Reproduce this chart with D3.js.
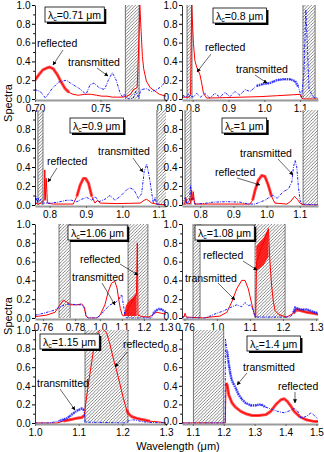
<!DOCTYPE html>
<html>
<head>
<meta charset="utf-8">
<script src="https://cdn.jsdelivr.net/npm/d3@7"></script>
<style>
body { margin: 0; background: #fff; }
svg { display: block; font-family: "Liberation Sans", Arial, sans-serif; }
</style>
</head>
<body>
<svg id="chart" width="324" height="452"></svg>
<script>
// spectra: [wavelength (um), value]
var refl071 = [[0.700,0.20],[0.703,0.26],[0.706,0.31],[0.709,0.33],[0.711,0.34],[0.714,0.32],[0.717,0.26],[0.720,0.18],[0.723,0.11],[0.726,0.07],[0.729,0.05],[0.733,0.04],[0.738,0.05],[0.743,0.05],[0.747,0.04],[0.751,0.03],[0.755,0.03],[0.759,0.02],[0.763,0.02],[0.767,0.02],[0.770,0.03],[0.773,0.05],[0.775,0.10],[0.778,0.12],[0.779,0.5],[0.780,1.0],[0.781,0.72],[0.782,0.45],[0.783,0.32],[0.785,0.19],[0.788,0.12],[0.791,0.09],[0.795,0.05],[0.800,0.03]];
var trans071 = [[0.700,0.10],[0.704,0.08],[0.708,0.01],[0.713,0.11],[0.718,0.18],[0.724,0.20],[0.727,0.17],[0.734,0.11],[0.739,0.05],[0.742,0.15],[0.745,0.17],[0.749,0.12],[0.753,0.10],[0.756,0.20],[0.759,0.28],[0.762,0.20],[0.765,0.06],[0.767,0.02],[0.768,0.05],[0.771,0.00],[0.775,0.01],[0.777,0.08],[0.779,0.02],[0.781,0.10],[0.785,0.11],[0.789,0.08],[0.793,0.10],[0.797,0.14],[0.800,0.20]];

var refl08 = [[0.770,0.02],[0.790,0.02],[0.794,0.05],[0.797,1.0],[0.802,0.59],[0.806,0.41],[0.811,0.34],[0.820,0.26],[0.825,0.17],[0.830,0.06],[0.839,0.01],[0.895,0.015],[0.988,0.025],[1.035,0.035],[1.081,0.045],[1.100,0.05],[1.104,0.01],[1.109,0.0],[1.150,0.0]];
var trans08 = [[0.772,0.04],[0.781,0.02],[0.788,0.05],[0.802,0.02],[0.811,0.06],[0.822,0.02],[0.834,0.06],[0.848,0.01],[0.862,0.06],[0.876,0.02],[0.890,0.07],[0.904,0.025],[0.918,0.08],[0.932,0.04],[0.946,0.10],[0.960,0.08],[0.979,0.14],[0.997,0.16],[1.016,0.17],[1.035,0.20],[1.053,0.21],[1.072,0.21],[1.086,0.19],[1.095,0.13],[1.104,0.02],[1.111,0.30],[1.116,0.95],[1.120,0.60],[1.125,0.10],[1.137,0.02],[1.150,0.01]];

var refl09 = [[0.760,0.02],[0.769,0.01],[0.778,0.02],[0.785,0.05],[0.787,0.37],[0.788,0.05],[0.791,0.28],[0.794,0.02],[0.810,0.01],[0.865,0.01],[0.875,0.09],[0.884,0.21],[0.893,0.28],[0.899,0.28],[0.907,0.23],[0.916,0.09],[0.925,0.02],[0.932,0.05],[0.939,0.02],[0.985,0.015],[1.049,0.02],[1.060,0.05],[1.067,0.06],[1.074,0.04],[1.081,0.02],[1.094,0.01],[1.120,0.0]];
var trans09 = [[0.760,0.05],[0.763,0.09],[0.766,0.02],[0.768,0.08],[0.772,0.03],[0.776,0.06],[0.781,0.02],[0.801,0.02],[0.824,0.03],[0.847,0.05],[0.861,0.05],[0.875,0.035],[0.888,0.06],[0.902,0.08],[0.916,0.05],[0.925,0.09],[0.936,0.035],[0.952,0.06],[0.966,0.10],[0.980,0.05],[0.994,0.09],[1.012,0.16],[1.021,0.18],[1.032,0.16],[1.044,0.07],[1.053,0.12],[1.060,0.35],[1.067,0.43],[1.074,0.30],[1.081,0.12],[1.085,0.02],[1.090,0.08],[1.094,0.01],[1.120,0.0]];

var refl1 = [[0.745,0.01],[0.753,0.01],[0.757,0.07],[0.761,0.01],[0.771,0.02],[0.774,0.16],[0.777,0.05],[0.779,0.14],[0.783,0.01],[0.829,0.01],[0.950,0.01],[0.958,0.05],[0.965,0.15],[0.975,0.26],[0.985,0.31],[0.995,0.30],[1.005,0.21],[1.015,0.09],[1.025,0.02],[1.061,0.01],[1.073,0.04],[1.084,0.09],[1.093,0.06],[1.101,0.02],[1.111,0.0],[1.155,0.0]];
var trans1 = [[0.745,0.01],[0.751,0.05],[0.755,0.08],[0.759,0.02],[0.767,0.04],[0.771,0.21],[0.774,0.05],[0.779,0.08],[0.784,0.01],[0.809,0.015],[0.839,0.03],[0.880,0.035],[0.920,0.03],[0.945,0.01],[0.965,0.01],[0.980,0.03],[0.995,0.05],[1.008,0.08],[1.020,0.10],[1.032,0.07],[1.050,0.14],[1.066,0.17],[1.076,0.24],[1.081,0.40],[1.086,0.47],[1.091,0.40],[1.096,0.19],[1.101,0.05],[1.106,0.01],[1.155,0.0]];

var refl106 = [[0.755,0.015],[0.762,0.03],[0.7675,0.06],[0.7706,0.14],[0.7727,0.19],[0.7748,0.17],[0.7773,0.14],[0.7811,0.14],[0.7842,0.15],[0.7856,0.12],[0.7869,0.02],[0.7883,0.0],[0.986,0.0],[1.001,0.03],[1.023,0.14],[1.038,0.28],[1.053,0.37],[1.068,0.39],[1.078,0.32],[1.087,0.18],[1.093,0.10],[1.102,0.03],[1.108,0.02],[1.166,0.25],[1.170,0.80],[1.173,0.03],[1.19,0.015],[1.22,0.01],[1.24,0.03],[1.245,0.05],[1.26,0.06],[1.28,0.05],[1.30,0.04]];
var fill106 = [[1.109,0.02,0.03],[1.118,0.02,0.13],[1.128,0.02,0.17],[1.140,0.02,0.20],[1.150,0.02,0.22],[1.160,0.02,0.25],[1.167,0.02,0.28]];
var trans106 = [[0.755,0.03],[0.7602,0.05],[0.7644,0.07],[0.7675,0.085],[0.7706,0.12],[0.7738,0.14],[0.7769,0.15],[0.7811,0.14],[0.7842,0.14],[0.7863,0.10],[0.7869,0.02],[0.7883,0.0],[0.985,0.0],[1.001,0.025],[1.023,0.085],[1.046,0.14],[1.068,0.16],[1.084,0.19],[1.099,0.25],[1.107,0.14],[1.114,0.03],[1.121,0.0],[1.235,0.0],[1.242,0.05],[1.258,0.085],[1.273,0.10],[1.288,0.08],[1.30,0.06]];

var refl108 = [[0.757,0.01],[0.7594,0.01],[0.7607,0.05],[0.7623,0.01],[0.783,0.0],[0.979,0.01],[1.009,0.02],[1.030,0.06],[1.045,0.17],[1.060,0.31],[1.075,0.40],[1.085,0.40],[1.095,0.31],[1.1055,0.15],[1.1125,0.05],[1.1175,0.01],[1.120,0.60],[1.156,0.95],[1.160,0.63],[1.1655,0.35],[1.171,0.17],[1.176,0.08],[1.186,0.04],[1.201,0.02],[1.211,0.01],[1.2316,0.05],[1.2418,0.09],[1.252,0.08],[1.272,0.06],[1.292,0.05],[1.306,0.04]];
var fill108 = [[1.119,0.50,0.76],[1.130,0.53,0.81],[1.141,0.56,0.85],[1.151,0.62,0.92],[1.156,0.65,0.95]];
var trans108 = [[0.757,0.0],[0.760,0.02],[0.762,0.0],[0.964,0.0],[0.979,0.02],[0.999,0.05],[1.020,0.075],[1.040,0.11],[1.060,0.14],[1.075,0.12],[1.085,0.165],[1.095,0.13],[1.102,0.14],[1.110,0.08],[1.1155,0.01],[1.222,0.01],[1.232,0.06],[1.237,0.11],[1.252,0.09],[1.272,0.09],[1.292,0.065],[1.306,0.05]];

var refl115 = [[1.000,0.0],[1.050,0.0],[1.065,0.02],[1.080,0.035],[1.095,0.05],[1.107,0.06],[1.113,0.08],[1.115,0.17],[1.122,0.41],[1.130,0.66],[1.137,0.88],[1.145,0.98],[1.153,1.02],[1.164,0.97],[1.172,0.84],[1.179,0.70],[1.187,0.56],[1.195,0.41],[1.202,0.27],[1.210,0.14],[1.214,0.10],[1.221,0.07],[1.233,0.05],[1.248,0.035],[1.263,0.02],[1.286,0.01],[1.300,0.0]];
var trans115 = [[1.000,0.0],[1.034,0.0],[1.057,0.025],[1.073,0.05],[1.084,0.09],[1.095,0.13],[1.107,0.155],[1.112,0.14],[1.1145,0.01],[1.210,0.0],[1.214,0.025],[1.225,0.035],[1.240,0.02],[1.256,0.008],[1.300,0.0]];

var refl14 = [[1.065,0.0],[1.205,0.0],[1.2077,0.43],[1.211,0.41],[1.2165,0.30],[1.227,0.215],[1.238,0.17],[1.255,0.125],[1.271,0.10],[1.292,0.08],[1.314,0.08],[1.336,0.09],[1.352,0.125],[1.369,0.20],[1.385,0.25],[1.396,0.26],[1.4065,0.23],[1.4175,0.18],[1.428,0.125],[1.445,0.07],[1.466,0.035],[1.488,0.02],[1.505,0.015]];
var trans14 = [[1.065,0.0],[1.2045,0.0],[1.2057,0.90],[1.211,0.77],[1.2165,0.63],[1.222,0.52],[1.227,0.45],[1.238,0.38],[1.249,0.30],[1.260,0.25],[1.271,0.215],[1.287,0.19],[1.3035,0.19],[1.320,0.20],[1.336,0.17],[1.358,0.145],[1.379,0.12],[1.396,0.11],[1.412,0.13],[1.428,0.155],[1.439,0.13],[1.450,0.05],[1.466,0.07],[1.483,0.11],[1.4935,0.08],[1.505,0.04]];

// hatched (forbidden) wavelength bands
var gap071 = [[0.769,0.7795]];
var gap08 = [[0.784,0.798],[1.108,1.142]];
var gap09 = [[0.768,0.782],[1.095,1.122]];
var gap1 = [[0.754,0.772],[1.110,1.155]];
var gap106 = [[0.770,0.777],[1.128,1.218]];
var gap108 = [[0.7704,0.779],[1.1155,1.2064]];
var gap115 = [[1.1145,1.213]];
var gap14 = [[1.102,1.200]];

// x tick labels
var ticks071 = ['0.70','0.75','0.80'];
var ticks08 = ['0.8','0.9','1.0','1.1'];
var ticks106 = ['0.76','0.78','1.0','1.1','1.2','1.3'];
var ticks108 = ['0.76','1.0','1.1','1.2','1.3'];
var ticks115 = ['1.0','1.1','1.2','1.3'];
var ticks14 = ['1.1','1.2','1.3','1.4','1.5'];
var yTicks = [0, 0.2, 0.4, 0.6, 0.8, 1.0];
var yMinor = [0.1, 0.3, 0.5, 0.7, 0.9];

var cols = [[35, 166], [182, 318]];
var rows = [[5, 99], [110, 205], [224, 318], [330, 423]];

var RED = '#ff0000', BLUE = '#1a1aff';
var FS = 10;

var panels = [
    { lc: '0.71', row: 0, col: 0, xDomain: [0.70, 0.80], ticks: ticks071, refl: refl071, trans: trans071, gaps: gap071,
      rBands: [[0.700, 0.727]], tBands: [], box: [45, 7],
      notes: [{ t: 'reflected', x: 37, y: 47, a: [63, 50, 53, 65] }, { t: 'transmitted', x: 68, y: 66, a: [97, 68, 108, 76] }] },
    { lc: '0.8', row: 0, col: 1, xDomain: [0.77, 1.15], ticks: ticks08, refl: refl08, trans: trans08, gaps: gap08,
      rBands: [], tBands: [[0.975, 1.097]], box: [213, 8],
      notes: [{ t: 'reflected', x: 205, y: 51, a: [211, 54, 197, 72] }, { t: 'transmitted', x: 236, y: 73, a: [255, 75, 267, 83] }] },
    { lc: '0.9', row: 1, col: 0, xDomain: [0.76, 1.12], ticks: ticks08, refl: refl09, trans: trans09, gaps: gap09,
      rBands: [[0.872, 0.918]], tBands: [], box: [70, 118], noTop: true,
      notes: [{ t: 'reflected', x: 47, y: 165, a: [57, 168, 48, 182] }, { t: 'transmitted', x: 98, y: 155, a: [133, 158, 143, 172] }] },
    { lc: '1', row: 1, col: 1, xDomain: [0.745, 1.155], ticks: ticks08, refl: refl1, trans: trans1, gaps: gap1,
      rBands: [[0.958, 1.02]], tBands: [], box: [222, 118], noTop: true,
      notes: [{ t: 'reflected', x: 215, y: 176, a: [237, 178, 260, 185] }, { t: 'transmitted', x: 240, y: 157, a: [278, 159, 293, 175] }] },
    { lc: '1.06', row: 2, col: 0, xDomain: [0.755, 0.79, 0.96, 1.3], brk: 56 / 131, ticks: ticks106, refl: refl106, trans: trans106, gaps: gap106,
      fill: fill106, rBands: [], tBands: [[1.24, 1.30]], box: [68, 225],
      notes: [{ t: 'reflected', x: 80, y: 263, a: [120, 264, 138, 275] }, { t: 'transmitted', x: 72, y: 281, a: [102, 283, 115, 305] }] },
    { lc: '1.08', row: 2, col: 1, xDomain: [0.757, 0.785, 0.964, 1.306], brk: 23 / 136, ticks: ticks108, refl: refl108, trans: trans108, gaps: gap108,
      fill: fill108, rBands: [[1.225, 1.306]], tBands: [[1.23, 1.306]], box: [195, 225],
      notes: [{ t: 'reflected', x: 203, y: 259, a: [243, 261, 257, 270] }, { t: 'transmitted', x: 185, y: 282, a: [218, 283, 235, 300] }] },
    { lc: '1.15', row: 3, col: 0, xDomain: [1.0, 1.3], ticks: ticks115, refl: refl115, trans: trans115, gaps: gap115,
      rBands: [[1.06, 1.113], [1.21, 1.27]], tBands: [[1.055, 1.113]], box: [40, 334],
      notes: [{ t: 'reflected', x: 123, y: 348, a: [127, 352, 115, 367] }, { t: 'transmitted', x: 37, y: 387, a: [60, 389, 75, 410] }] },
    { lc: '1.4', row: 3, col: 1, xDomain: [1.065, 1.505], ticks: ticks14, refl: refl14, trans: trans14, gaps: gap14,
      rBands: [[1.207, 1.505]], tBands: [[1.206, 1.34]], box: [247, 336], noTop: true,
      notes: [{ t: 'transmitted', x: 243, y: 371, a: [247, 373, 237, 385] }, { t: 'reflected', x: 278, y: 390, a: [295, 392, 295, 403] }] }
];

var svg = d3.select('#chart');
var defs = svg.append('defs');

var pat = defs.append('pattern')
    .attr('id', 'hatch')
    .attr('patternUnits', 'userSpaceOnUse')
    .attr('width', 3.2)
    .attr('height', 3.2);
pat.append('rect').attr('width', 3.2).attr('height', 3.2).attr('fill', '#fff');
pat.append('path')
    .attr('d', 'M-0.8,0.8 L0.8,-0.8 M0,3.2 L3.2,0 M2.4,4 L4,2.4')
    .attr('stroke', '#444')
    .attr('stroke-width', 0.65);

defs.append('marker')
    .attr('id', 'arr')
    .attr('viewBox', '0 0 6 6')
    .attr('refX', 5.5)
    .attr('refY', 3)
    .attr('markerUnits', 'userSpaceOnUse')
    .attr('markerWidth', 4)
    .attr('markerHeight', 4)
    .attr('orient', 'auto')
    .append('path').attr('d', 'M0,0 L6,3 L0,6 Z').attr('fill', '#000');

function inRange(arr, r) {
    return arr.filter(function (d) { return d[0] >= r[0] && d[0] <= r[1]; });
}

panels.forEach(function (p, i) {
    var x0 = cols[p.col][0], x1 = cols[p.col][1];
    var y0 = rows[p.row][0], y1 = rows[p.row][1];
    var xr = [x0, x1];
    if (p.brk) {
        var xb = x0 + p.brk * (x1 - x0);
        xr = [x0, xb, xb, x1];
    }
    var x = d3.scaleLinear().domain(p.xDomain).range(xr);
    var y = d3.scaleLinear().domain([0, 1]).range([y1, y0]);

    defs.append('clipPath').attr('id', 'clip' + i)
        .append('rect').attr('x', x0).attr('y', y0).attr('width', x1 - x0).attr('height', y1 - y0 + 1);

    var g = svg.append('g');
    var plot = g.append('g').attr('clip-path', 'url(#clip' + i + ')');

    // hatched bands
    plot.selectAll('rect.gap').data(p.gaps).join('rect')
        .attr('class', 'gap')
        .attr('x', function (d) { return x(d[0]); })
        .attr('width', function (d) { return x(d[1]) - x(d[0]); })
        .attr('y', y0)
        .attr('height', y1 - y0)
        .attr('fill', 'url(#hatch)');
    p.gaps.forEach(function (d) {
        d.forEach(function (v) {
            plot.append('line').attr('x1', x(v)).attr('x2', x(v)).attr('y1', y0).attr('y2', y1)
                .attr('stroke', '#222').attr('stroke-width', 0.6);
        });
    });

    var line = d3.line().x(function (d) { return x(d[0]); }).y(function (d) { return y(d[1]); });

    if (p.fill) {
        var area = d3.area()
            .x(function (d) { return x(d[0]); })
            .y0(function (d) { return y(d[1]); })
            .y1(function (d) { return y(d[2]); });
        plot.append('path').attr('d', area(p.fill)).attr('fill', RED).attr('opacity', 0.85);
    }

    // reflected
    p.rBands.forEach(function (r) {
        plot.append('path').attr('d', line(inRange(p.refl, r)))
            .attr('fill', 'none').attr('stroke', RED).attr('stroke-width', 3)
            .attr('stroke-linejoin', 'round').attr('opacity', 0.7);
    });
    plot.append('path').attr('d', line(p.refl))
        .attr('fill', 'none').attr('stroke', RED).attr('stroke-width', 1);

    // transmitted
    p.tBands.forEach(function (r) {
        plot.append('path').attr('d', line(inRange(p.trans, r)))
            .attr('fill', 'none').attr('stroke', BLUE).attr('stroke-width', 2.6)
            .attr('stroke-dasharray', '1.5,0.7').attr('opacity', 0.75);
    });
    plot.append('path').attr('d', line(p.trans))
        .attr('fill', 'none').attr('stroke', BLUE).attr('stroke-width', 1)
        .attr('stroke-dasharray', '2.5,1.2,0.8,1.2');

    // axes
    var ya = g.append('g').attr('transform', 'translate(' + x0 + ',0)')
        .call(d3.axisLeft(y).tickValues(yTicks).tickFormat(d3.format('.1f')).tickSize(3).tickSizeOuter(0).tickPadding(1.5));
    ya.select('.domain').attr('stroke', '#000').attr('stroke-width', 0.8);
    ya.selectAll('text').attr('font-size', FS).attr('fill', '#000')
        .attr('y', function (d) { return (p.col === 1 && d === 0) ? -2 : 0; })
        .style('display', function (d) { return (p.noTop && d === 1) ? 'none' : null; });
    g.append('g').attr('transform', 'translate(' + x0 + ',0)')
        .call(d3.axisLeft(y).tickValues(yMinor).tickFormat('').tickSize(1.8).tickSizeOuter(0))
        .select('.domain').remove();

    var xa = g.append('g').attr('transform', 'translate(0,' + (y1 + 1) + ')')
        .call(d3.axisBottom(x).tickValues(p.ticks.map(Number)).tickFormat(function (d, k) { return p.ticks[k]; })
            .tickSize(2).tickSizeOuter(0).tickPadding(2.5));
    xa.select('.domain').attr('stroke', '#9a9a9a').attr('stroke-width', 2);
    xa.selectAll('.tick line').attr('stroke', '#666');
    xa.selectAll('text').attr('font-size', FS).attr('fill', '#000');

    // annotations
    p.notes.forEach(function (n) {
        g.append('text').attr('x', n.x).attr('y', n.y).attr('font-size', 10.5).text(n.t);
        g.append('line')
            .attr('x1', n.a[0]).attr('y1', n.a[1]).attr('x2', n.a[2]).attr('y2', n.a[3])
            .attr('stroke', '#000').attr('stroke-width', 0.6).attr('marker-end', 'url(#arr)');
    });

    // lambda_c box
    var lab = g.append('g').attr('transform', 'translate(' + p.box[0] + ',' + p.box[1] + ')');
    var t = lab.append('text').attr('x', 3).attr('y', 11.5).attr('font-size', 10.5);
    t.append('tspan').text('λ');
    t.append('tspan').attr('font-size', 7).attr('dy', 2.5).text('c');
    t.append('tspan').attr('dy', -2.5).text('=' + p.lc + ' μm');
    var bw = t.node().getBBox().width + 6;
    lab.insert('rect', 'text').attr('x', 2).attr('y', 2).attr('width', bw).attr('height', 15).attr('fill', '#000');
    lab.insert('rect', 'text').attr('x', 0).attr('y', 0).attr('width', bw).attr('height', 15)
        .attr('fill', '#fff').attr('stroke', '#000').attr('stroke-width', 0.8);
});

// axis titles
[103, 316].forEach(function (cy) {
    svg.append('text')
        .attr('transform', 'translate(8,' + cy + ') rotate(-90)')
        .attr('text-anchor', 'middle')
        .attr('dy', '0.35em')
        .attr('font-size', 11)
        .text('Spectra');
});
svg.append('text')
    .attr('x', 178).attr('y', 450)
    .attr('text-anchor', 'middle')
    .attr('font-size', 11)
    .text('Wavelength (μm)');
</script>
</body>
</html>
